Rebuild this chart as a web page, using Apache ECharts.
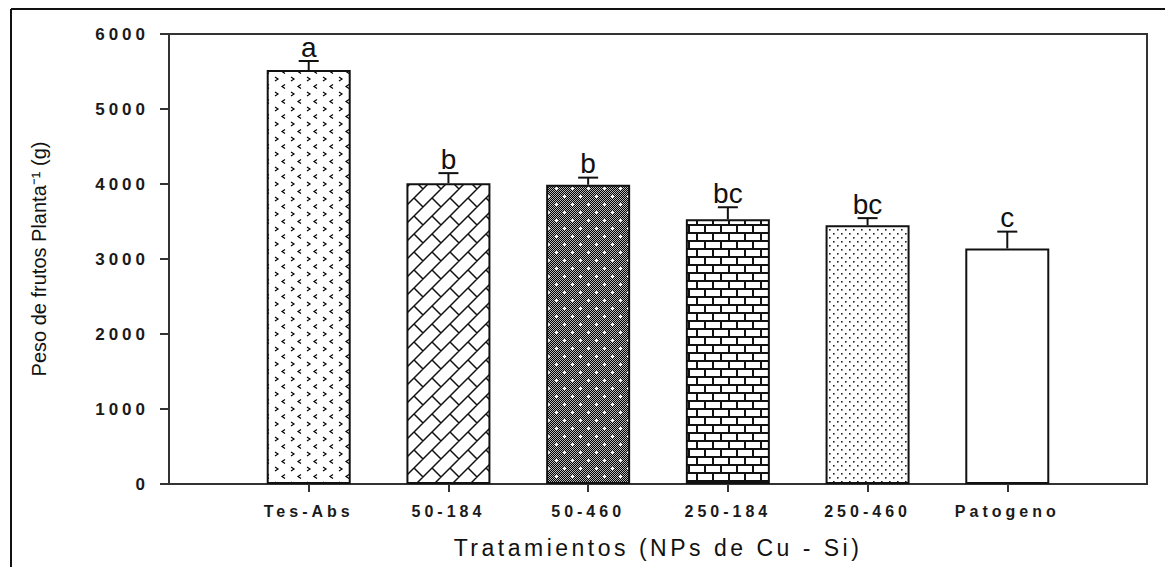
<!DOCTYPE html>
<html>
<head>
<meta charset="utf-8">
<script src="https://cdn.jsdelivr.net/npm/echarts@6/dist/echarts.min.js"></script>
<style>
html, body { margin: 0; padding: 0; background: #fff; }
#chart { width: 1165px; height: 567px; }
</style>
</head>
<body>
<div id="chart"></div>
<script>
// datos
const categories = ['Tes-Abs', '50-184', '50-460', '250-184', '250-460', 'Patogeno'];
const means = [5520, 4010, 3990, 3530, 3450, 3140];
const errors = [120, 135, 95, 160, 95, 225];
const letters = ['a', 'b', 'b', 'bc', 'bc', 'c'];
const yTicks = [0, 1000, 2000, 3000, 4000, 5000, 6000];
const xTitle = 'Tratamientos (NPs de Cu - Si)';
const yTitle = 'Peso de frutos Planta\u207B\u00B9 (g)';

// eje con una banda vacia a cada lado
const axisCats = [''].concat(categories, ['']);

function tile(w, h, draw) {
  const c = document.createElement('canvas');
  c.width = w; c.height = h;
  const ctx = c.getContext('2d');
  ctx.fillStyle = '#fff';
  ctx.fillRect(0, 0, w, h);
  draw(ctx, w, h);
  return { image: c.toDataURL(), repeat: 'repeat', imageWidth: w, imageHeight: h };
}

// chevrones < >
const patChevron = tile(16, 15, function (ctx) {
  ctx.strokeStyle = '#000'; ctx.lineWidth = 1.2;
  ctx.beginPath();
  ctx.moveTo(3, 2); ctx.lineTo(6, 4); ctx.lineTo(3, 6);
  ctx.moveTo(13, 9.5); ctx.lineTo(10, 11.5); ctx.lineTo(13, 13.5);
  ctx.stroke();
});

// ladrillos en diagonal
const patDiag = tile(18, 18, function (ctx) {
  const H = 18 / Math.SQRT2, L = 2 * H;
  ctx.strokeStyle = '#111'; ctx.lineWidth = 1.5;
  ctx.rotate(-Math.PI / 4);
  ctx.beginPath();
  for (let k = -4; k <= 6; k++) {
    ctx.moveTo(-80, k * H); ctx.lineTo(80, k * H);
    for (let j = -4; j <= 4; j++) {
      const x = j * L + ((k % 2 + 2) % 2) * L / 2;
      ctx.moveTo(x, k * H); ctx.lineTo(x, (k + 1) * H);
    }
  }
  ctx.stroke();
});

// gris oscuro con cruces blancas
const patDark = tile(16, 16, function (ctx) {
  for (let y = 0; y < 16; y++) {
    for (let x = 0; x < 16; x++) {
      ctx.fillStyle = (x + y) % 2 ? '#000' : '#b8b8b8';
      ctx.fillRect(x, y, 1, 1);
    }
  }
  ctx.fillStyle = '#fff';
  [[4, 4], [12, 12]].forEach(function (p) {
    ctx.fillRect(p[0] - 1, p[1], 3, 1);
    ctx.fillRect(p[0], p[1] - 1, 1, 3);
  });
});

// ladrillos horizontales
const patBrick = tile(16, 16, function (ctx) {
  ctx.fillStyle = '#111';
  ctx.fillRect(0, 0, 16, 2);
  ctx.fillRect(0, 8, 16, 2);
  ctx.fillRect(0, 0, 2, 8);
  ctx.fillRect(8, 8, 2, 8);
});

// puntos
const patDots = tile(8, 8, function (ctx) {
  ctx.fillStyle = '#222';
  ctx.fillRect(1, 1, 1.6, 1.6);
  ctx.fillRect(5, 5, 1.6, 1.6);
});

const fills = [patChevron, patDiag, patDark, patBrick, patDots, '#fff'];

const barData = means.map(function (v, i) {
  return { value: [i + 1, v], itemStyle: { color: fills[i] } };
});
const errData = means.map(function (v, i) {
  return [i + 1, v, errors[i]];
});

const chart = echarts.init(document.getElementById('chart'), null, { renderer: 'svg' });

const option = {
  animation: false,
  backgroundColor: '#fff',
  textStyle: { fontFamily: 'Liberation Sans, Arial, sans-serif' },
  grid: {
    left: 169, top: 34, right: 18, bottom: 83,
    show: true, borderColor: '#333', borderWidth: 2
  },
  graphic: [
    { type: 'line', shape: { x1: 11, y1: 9, x2: 11, y2: 570 }, style: { stroke: '#111', lineWidth: 2 } },
    { type: 'line', shape: { x1: 11, y1: 9, x2: 1170, y2: 9 }, style: { stroke: '#111', lineWidth: 2 } }
  ],
  xAxis: {
    type: 'category',
    data: axisCats,
    boundaryGap: false,
    name: xTitle,
    nameLocation: 'middle',
    nameGap: 52,
    nameTextStyle: { fontSize: 23, color: '#111' },
    axisLine: { lineStyle: { color: '#333', width: 2 } },
    axisTick: {
      length: 8,
      lineStyle: { color: '#333', width: 2 },
      interval: function (i) { return i > 0 && i < axisCats.length - 1; }
    },
    axisLabel: { interval: 0, margin: 19, fontSize: 16, fontWeight: 'bold', color: '#1a1a1a' },
    splitLine: { show: false }
  },
  yAxis: {
    type: 'value',
    min: yTicks[0],
    max: yTicks[yTicks.length - 1],
    interval: 1000,
    name: yTitle,
    nameLocation: 'middle',
    nameRotate: 90,
    nameGap: 120,
    nameTextStyle: { fontSize: 20, color: '#111' },
    axisLine: { show: true, lineStyle: { color: '#333', width: 2 } },
    axisTick: { show: true, length: 9, lineStyle: { color: '#333', width: 2 } },
    axisLabel: {
      margin: 20, fontSize: 17, fontWeight: 'bold', color: '#1a1a1a',
      formatter: function (v) { return String(v); }
    },
    splitLine: { show: false }
  },
  series: [
    {
      type: 'bar',
      data: barData,
      barWidth: 84,
      itemStyle: { borderColor: '#111', borderWidth: 2 }
    },
    {
      type: 'custom',
      data: errData,
      z: 5,
      renderItem: function (params, api) {
        const base = api.coord([api.value(0), api.value(1)]);
        const top = api.coord([api.value(0), api.value(1) + api.value(2)]);
        return {
          type: 'group',
          children: [
            { type: 'line', shape: { x1: base[0], y1: base[1], x2: top[0], y2: top[1] }, style: { stroke: '#111', lineWidth: 2 } },
            { type: 'line', shape: { x1: top[0] - 10, y1: top[1], x2: top[0] + 10, y2: top[1] }, style: { stroke: '#111', lineWidth: 2 } },
            {
              type: 'text',
              style: {
                text: letters[params.dataIndex],
                x: top[0], y: top[1],
                align: 'center', verticalAlign: 'bottom',
                font: '28px Liberation Sans, Arial, sans-serif',
                fill: '#111'
              }
            }
          ]
        };
      }
    }
  ]
};

chart.setOption(option);

// espaciado de letras como en la figura original
function spaceText() {
  const yl = yTicks.map(String);
  document.querySelectorAll('#chart text').forEach(function (t) {
    const s = t.textContent;
    if (yl.indexOf(s) >= 0) t.style.letterSpacing = '4px';
    else if (categories.indexOf(s) >= 0) t.style.letterSpacing = '4px';
    else if (s === xTitle) t.style.letterSpacing = '3.5px';
  });
}
spaceText();
chart.on('finished', spaceText);
</script>
</body>
</html>
